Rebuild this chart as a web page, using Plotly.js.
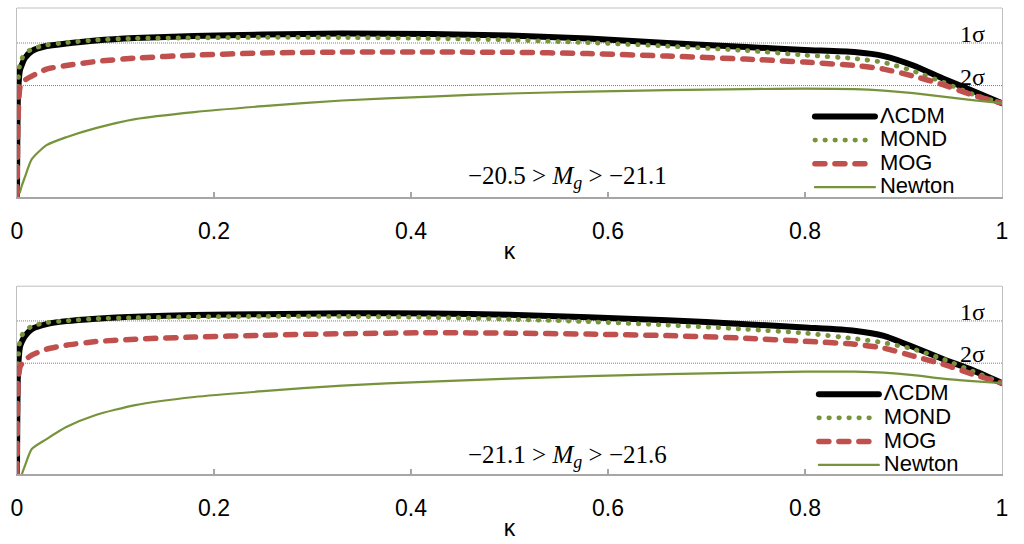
<!DOCTYPE html>
<html>
<head>
<meta charset="utf-8">
<script src="https://cdn.plot.ly/plotly-3.0.1.min.js"></script>
<style>
  html, body { margin: 0; padding: 0; background: #fff; }
  #chart { width: 1024px; height: 544px; }
  .scatterlayer path.js-line, .legendlines path.js-line { stroke-linecap: round; stroke-linejoin: round; }
</style>
</head>
<body>
<div id="chart"></div>
<script>
// ---- data ----
const kappa = [0, 0.001, 0.003, 0.005, 0.008, 0.015, 0.03, 0.05, 0.08, 0.12, 0.18, 0.25, 0.33, 0.42, 0.5, 0.58, 0.66, 0.74, 0.8, 0.85, 0.88, 0.91, 0.94, 0.97, 1];

const seriesNames = ['ΛCDM', 'MOND', 'MOG', 'Newton'];

// top panel: -20.5 > Mg > -21.1
const lcdmTop   = [0, 54.0, 67.2, 70.1, 73.5, 77.2, 79.9, 81.2, 82.8, 84.1, 85.2, 86.0, 86.5, 86.2, 85.4, 83.9, 81.5, 79.4, 77.8, 76.7, 74.6, 69.6, 62.7, 56.3, 49.7];
const mondTop   = [0, 59.3, 70.9, 73.3, 75.7, 78.3, 80.4, 81.7, 83.1, 83.9, 84.2, 84.5, 84.4, 83.9, 83.1, 81.7, 79.9, 77.5, 75.1, 73.3, 71.2, 66.7, 60.8, 54.5, 49.7];
const mogTop    = [0, 40.7, 58.2, 60.1, 61.9, 64.0, 67.7, 69.6, 71.7, 73.5, 75.1, 76.2, 76.7, 76.7, 76.6, 75.9, 74.6, 73.0, 71.4, 69.6, 67.7, 64.0, 59.5, 54.0, 49.7];
const newtonTop = [null, null, 2.6, 6.3, 10.6, 20.1, 27.5, 31.7, 36.5, 41.3, 45.0, 48.1, 51.1, 53.2, 54.8, 55.8, 56.6, 57.1, 57.4, 57.1, 56.3, 55.0, 53.2, 51.3, 49.7];

// bottom panel: -21.1 > Mg > -21.6
const lcdmBot   = [0, 54.3, 67.6, 70.5, 73.4, 77.1, 79.8, 81.4, 82.7, 83.8, 84.6, 85.1, 85.6, 85.4, 84.8, 83.5, 81.9, 79.8, 78.0, 76.3, 73.6, 67.6, 61.2, 55.3, 48.4];
const mondBot   = [0, 58.0, 71.3, 73.9, 76.1, 78.7, 80.6, 81.6, 82.7, 83.2, 83.7, 83.9, 83.9, 83.4, 82.4, 81.1, 79.3, 77.1, 75.0, 72.1, 69.9, 66.5, 61.2, 54.8, 48.4];
const mogBot    = [0, 47.3, 56.9, 58.8, 60.6, 63.3, 66.5, 68.6, 70.5, 71.8, 72.9, 73.9, 74.7, 75.2, 75.0, 74.5, 73.7, 72.3, 70.7, 69.1, 67.0, 62.8, 58.5, 53.2, 48.4];
const newtonBot = [null, null, null, 0, 4.3, 13.3, 18.6, 25.0, 31.4, 36.7, 41.0, 44.1, 47.1, 49.2, 50.8, 52.1, 53.2, 54.0, 54.5, 54.5, 54.0, 52.7, 50.8, 49.5, 48.4];

const sigmaLevels = [81.5, 59.0];
const sigmaLabels = ['1σ', '2σ'];
const panelRanges = [['−20.5', '−21.1'], ['−21.1', '−21.6']];
const xTicks = [0, 0.2, 0.4, 0.6, 0.8, 1];
const xTickText = ['0', '0.2', '0.4', '0.6', '0.8', '1'];

// ---- styles ----
const styles = [
  { color: '#000000', width: 6, dash: 'solid', shape: 'spline', smoothing: 0.6 },
  { color: '#77933C', width: 4.8, dash: '0.5px,9.5px', shape: 'spline', smoothing: 0.6 },
  { color: '#C0504D', width: 5.5, dash: '10px,10px', shape: 'spline', smoothing: 0.6 },
  { color: '#77933C', width: 2.2, dash: 'solid', shape: 'spline', smoothing: 0.6 }
];

const sans = 'Liberation Sans, Arial, sans-serif';
const serif = 'Liberation Serif, Times New Roman, serif';

function legendName(n) { return '<span style="font-size:22px">' + n + '</span>'; }
function panelLabel(r) {
  return r[0] + ' > <span style="font-style:italic;font-size:25px">M</span>' +
    '<sub><span style="font-style:italic;font-size:18px">g</span></sub> > ' + r[1];
}

const topSeries = [lcdmTop, mondTop, mogTop, newtonTop];
const botSeries = [lcdmBot, mondBot, mogBot, newtonBot];
const traces = [];
topSeries.forEach((ys, i) => traces.push({
  x: kappa, y: ys, xaxis: 'x', yaxis: 'y', type: 'scatter', mode: 'lines',
  name: legendName(seriesNames[i]), legend: 'legend', line: styles[i], hoverinfo: 'skip'
}));
botSeries.forEach((ys, i) => traces.push({
  x: kappa, y: ys, xaxis: 'x2', yaxis: 'y2', type: 'scatter', mode: 'lines',
  name: legendName(seriesNames[i]), legend: 'legend2', line: styles[i], hoverinfo: 'skip'
}));

const frameColor = '#a6a6a6';
function xAxis(anchor) {
  return {
    anchor: anchor, range: [0, 1], tickvals: xTicks, ticktext: xTickText,
    ticks: 'inside', ticklen: 5, tickcolor: frameColor, tickwidth: 1.5,
    showline: true, linecolor: frameColor, linewidth: 2, mirror: false,
    showgrid: false, zeroline: false,
    tickfont: { family: sans, size: 23, color: '#000' },
    ticklabelstandoff: 12,
    title: { text: 'κ', font: { family: sans, size: 23, color: '#000' }, standoff: 0 },
    automargin: false
  };
}
function yAxis(anchor, domain) {
  return {
    anchor: anchor, domain: domain, range: [0, 100],
    showticklabels: false, ticks: '', showgrid: false, zeroline: false,
    showline: true, linecolor: '#bfbfbf', linewidth: 1, mirror: true,
    automargin: false
  };
}

const shapes = [];
const annotations = [];
[['x', 'y'], ['x2', 'y2']].forEach(([xa, ya], p) => {
  // top frame edge
  shapes.push({ type: 'line', xref: xa + ' domain', yref: ya + ' domain', x0: 0, x1: 1, y0: 1, y1: 1,
    line: { color: '#bfbfbf', width: 1 } });
  sigmaLevels.forEach((lv, j) => {
    shapes.push({ type: 'line', xref: xa + ' domain', yref: ya, x0: 0, x1: 1, y0: lv, y1: lv,
      line: { color: '#808080', width: 1, dash: '1px,1px' }, layer: 'below' });
    annotations.push({ xref: xa + ' domain', yref: ya, x: 0.985, y: lv, xanchor: 'right', yanchor: 'bottom',
      yshift: -6, text: sigmaLabels[j], showarrow: false, font: { family: serif, size: 24, color: '#000' } });
  });
  annotations.push({ xref: xa, yref: ya, x: 0.559, y: p === 0 ? 10.5 : 9.5, xanchor: 'center', yanchor: 'middle',
    text: panelLabel(panelRanges[p]), showarrow: false, font: { family: serif, size: 25, color: '#000' } });
});

const legendBase = {
  bgcolor: 'rgba(0,0,0,0)', borderwidth: 0, itemwidth: 60,
  font: { family: sans, size: 15.8, color: '#000' },
  xanchor: 'left', yanchor: 'top', tracegroupgap: 0, itemclick: false, itemdoubleclick: false
};

const layout = {
  width: 1024, height: 544,
  margin: { l: 17, r: 22, t: 8, b: 70 },
  paper_bgcolor: '#fff', plot_bgcolor: '#fff',
  showlegend: true,
  xaxis: xAxis('y'),
  yaxis: yAxis('x', [0.594, 1]),
  xaxis2: xAxis('y2'),
  yaxis2: yAxis('x2', [0, 0.403]),
  legend: Object.assign({}, legendBase, { x: 0.805, y: 0.803 }),
  legend2: Object.assign({}, legendBase, { x: 0.809, y: 0.207 }),
  shapes: shapes,
  annotations: annotations
};

Plotly.newPlot('chart', traces, layout, { staticPlot: true, displayModeBar: false });
</script>
</body>
</html>
